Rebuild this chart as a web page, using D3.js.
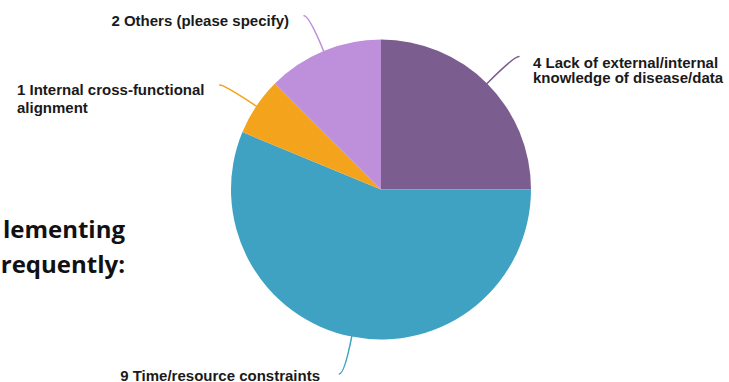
<!DOCTYPE html>
<html>
<head>
<meta charset="utf-8">
<script src="https://cdn.jsdelivr.net/npm/d3@7"></script>
<style>
  html, body { margin: 0; padding: 0; background: #fff; overflow: hidden; }
  svg { display: block; }
</style>
</head>
<body>
<svg id="chart" width="729" height="382"></svg>
<script>
// Survey answers: response counts per barrier
const categories = [
  ["Lack of external/internal", "knowledge of disease/data"],
  ["Time/resource constraints"],
  ["Internal cross-functional", "alignment"],
  ["Others (please specify)"]
];
const counts = [4, 9, 1, 2];
const sliceColors = ["#7b5e8f", "#40a2c2", "#f4a31c", "#be8fda"];

// Slide text running off the left edge
const sideText = ["lementing", "requently:"];

// Label placement: x, first baseline, line gap, anchor
const labelLayout = [
  { x: 533, y: 67.5, gap: 15.5, anchor: "start" },
  { x: 320, y: 380.5, gap: 16, anchor: "end" },
  { x: 17, y: 95, gap: 17.5, anchor: "start" },
  { x: 289, y: 26, gap: 16, anchor: "end" }
];

const width = 729, height = 382;
const cx = 381, cy = 189.5, radius = 150;
const leaderReach = 38, leaderHook = 5;

const svg = d3.select("#chart");
const g = svg.append("g").attr("transform", `translate(${cx},${cy})`);

const data = counts.map((v, i) => ({ value: v, lines: categories[i], color: sliceColors[i], i }));

const pie = d3.pie().sort(null).value(d => d.value);
const arc = d3.arc().innerRadius(0).outerRadius(radius);
const arcs = pie(data);

g.selectAll("path.slice")
  .data(arcs)
  .join("path")
  .attr("class", "slice")
  .attr("d", arc)
  .attr("fill", d => d.data.color);

// Curved leader lines: leave the rim radially, finish with a short horizontal hook
function polar(a, r) { return [Math.sin(a) * r, -Math.cos(a) * r]; }

g.selectAll("path.leader")
  .data(arcs)
  .join("path")
  .attr("class", "leader")
  .attr("fill", "none")
  .attr("stroke", d => d.data.color)
  .attr("stroke-width", 1.5)
  .attr("stroke-linecap", "round")
  .attr("d", d => {
    const mid = (d.startAngle + d.endAngle) / 2;
    const p0 = polar(mid, radius);
    const p1 = polar(mid, radius + leaderReach);
    const dir = Math.sin(mid) >= 0 ? 1 : -1;
    const p2 = [p1[0] + dir * leaderHook, p1[1]];
    return `M${p0[0]},${p0[1]}Q${p1[0]},${p1[1]} ${p2[0]},${p2[1]}`;
  });

// Category labels
const labels = svg.selectAll("text.label")
  .data(data)
  .join("text")
  .attr("class", "label")
  .attr("font-family", "'Liberation Sans', Arial, sans-serif")
  .attr("font-weight", "bold")
  .attr("font-size", 15)
  .attr("fill", "#1a1a1a")
  .attr("text-anchor", d => labelLayout[d.i].anchor);

labels.each(function(d) {
  const L = labelLayout[d.i];
  const lines = d.lines.map((t, k) => k === 0 ? `${d.value} ${t}` : t);
  d3.select(this).selectAll("tspan")
    .data(lines)
    .join("tspan")
    .attr("x", L.x)
    .attr("y", (t, k) => L.y + k * L.gap)
    .text(t => t);
});

// Heading fragment at the left edge
svg.append("text")
  .attr("font-family", "'Open Sans', Lato, sans-serif")
  .attr("font-weight", "bold")
  .attr("font-size", 24)
  .attr("fill", "#111")
  .attr("text-anchor", "end")
  .selectAll("tspan")
  .data(sideText)
  .join("tspan")
  .attr("x", 125)
  .attr("y", (t, k) => 237.5 + k * 35.5)
  .text(t => t);
</script>
</body>
</html>
